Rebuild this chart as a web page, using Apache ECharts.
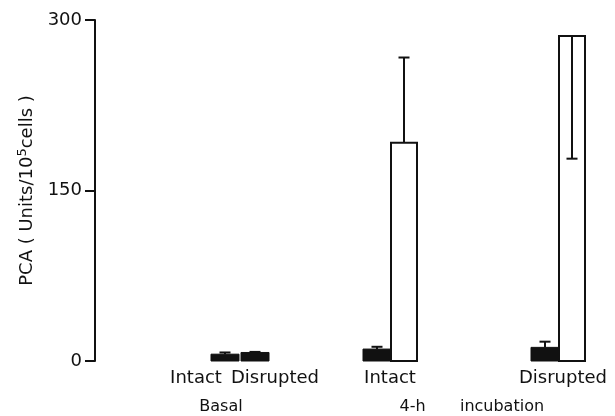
<!DOCTYPE html>
<html>
<head>
<meta charset="utf-8">
<script src="https://cdn.jsdelivr.net/npm/echarts@6/dist/echarts.min.js"></script>
<style>
  html, body { margin: 0; padding: 0; background: #fff; }
  #chart { width: 615px; height: 416px; }
</style>
</head>
<body>
<div id="chart"></div>
<script>
// PCA (Units/10^5 cells) for intact vs disrupted cells, basal and after 4-h incubation
const cellStates = ['Intact', 'Disrupted'];
const groupNames = ['Basal', '4-h', 'incubation'];

// Basal: solid bars only
const basalSolid = [6, 7.5];
const basalSolidErr = [1.5, 0.5];

// 4-h incubation: solid and open bar for each cell state
const incSolid = [10.5, 12];
const incSolidErr = [2, 5];
const incOpen = [192, 286];
const incOpenErr = [75, 108];

const yTicks = [0, 150, 300];

// ---- layout (x axis in abstract units, 10 px each) ----
const X_MAX = 52;
const SOLID_W = 2.8, OPEN_W = 2.6, CAP_W = 1.1;
const basalAt = [13, 16];          // bar centres for basal bars
const incAt = [29.6, 46.4];        // boundary between solid/open pair
const stateLabelAt = [10.1, 18.0, 29.5, 46.8];
const groupLabelAt = [12.6, 31.75, 40.7];

const FONT = 'DejaVu Sans';
const INK = '#111';

// Build bar items: [xCentre, value, error, width, kind]
const bars = [];
cellStates.forEach((s, i) => {
  bars.push([basalAt[i], basalSolid[i], basalSolidErr[i], SOLID_W, 'solid']);
});
cellStates.forEach((s, i) => {
  bars.push([incAt[i] - SOLID_W / 2, incSolid[i], incSolidErr[i], SOLID_W, 'solid']);
  bars.push([incAt[i] + OPEN_W / 2, incOpen[i], incOpenErr[i], OPEN_W, 'open']);
});

const stateLabels = stateLabelAt.map((x, i) => ({ x, text: cellStates[i % 2] }));
const groupLabels = groupLabelAt.map((x, i) => ({ x, text: groupNames[i] }));
const yMax = yTicks[yTicks.length - 1];

function labelFor(list) {
  return v => {
    const hit = list.find(l => Math.abs(l.x - v) < 1e-6);
    return hit ? hit.text : '';
  };
}

const chart = echarts.init(document.getElementById('chart'), null, { renderer: 'canvas' });

chart.setOption({
  animation: false,
  backgroundColor: '#fff',
  grid: { left: 95, right: 0, top: 20, bottom: 55 },
  xAxis: [
    {
      type: 'value', min: 0, max: X_MAX,
      axisLine: { show: false }, axisTick: { show: false }, splitLine: { show: false },
      axisLabel: {
        customValues: stateLabelAt,
        formatter: labelFor(stateLabels),
        fontFamily: FONT, fontSize: 18, color: INK, margin: 8
      }
    },
    {
      type: 'value', min: 0, max: X_MAX, position: 'bottom', offset: 30,
      axisLine: { show: false }, axisTick: { show: false }, splitLine: { show: false },
      axisLabel: {
        customValues: groupLabelAt,
        formatter: labelFor(groupLabels),
        fontFamily: FONT, fontSize: 16, color: INK, margin: 8
      }
    }
  ],
  yAxis: {
    type: 'value', min: 0, max: yMax, interval: 150,
    name: 'PCA ( Units/10{sup|5}cells )',
    nameLocation: 'middle', nameRotate: 90, nameGap: 56,
    nameTextStyle: {
      fontFamily: FONT, fontSize: 18, color: INK,
      rich: { sup: { fontFamily: FONT, fontSize: 13, color: INK, padding: [0, 0, 10, 0] } }
    },
    axisLine: { show: true, lineStyle: { color: INK, width: 2 } },
    axisTick: { show: true, length: 10, lineStyle: { color: INK, width: 2 } },
    axisLabel: { fontFamily: FONT, fontSize: 18, color: INK, margin: 13 },
    splitLine: { show: false }
  },
  series: [{
    type: 'custom',
    clip: false,
    data: bars,
    encode: { x: 0, y: 1 },
    renderItem: (params, api) => {
      const x = api.value(0), v = api.value(1), err = api.value(2), w = api.value(3);
      const kind = bars[params.dataIndex][4];
      const top = api.coord([x, v]);
      const base = api.coord([x, 0]);
      const pw = api.size([w, 0])[0];
      const capW = api.size([CAP_W, 0])[0];
      const children = [];
      children.push({
        type: 'rect',
        shape: { x: top[0] - pw / 2, y: top[1], width: pw, height: base[1] - top[1] },
        style: kind === 'solid'
          ? { fill: INK, stroke: INK, lineWidth: 1 }
          : { fill: '#fff', stroke: INK, lineWidth: 2 }
      });
      if (err > 0) {
        // error bars go upward unless they would run past the axis maximum
        const end = v + err > yMax ? v - err : v + err;
        const e = api.coord([x, end]);
        children.push({ type: 'line', shape: { x1: top[0], y1: top[1], x2: e[0], y2: e[1] },
          style: { stroke: INK, lineWidth: 2 } });
        children.push({ type: 'line', shape: { x1: e[0] - capW / 2, y1: e[1], x2: e[0] + capW / 2, y2: e[1] },
          style: { stroke: INK, lineWidth: 2 } });
      }
      return { type: 'group', children };
    }
  }]
});
</script>
</body>
</html>
